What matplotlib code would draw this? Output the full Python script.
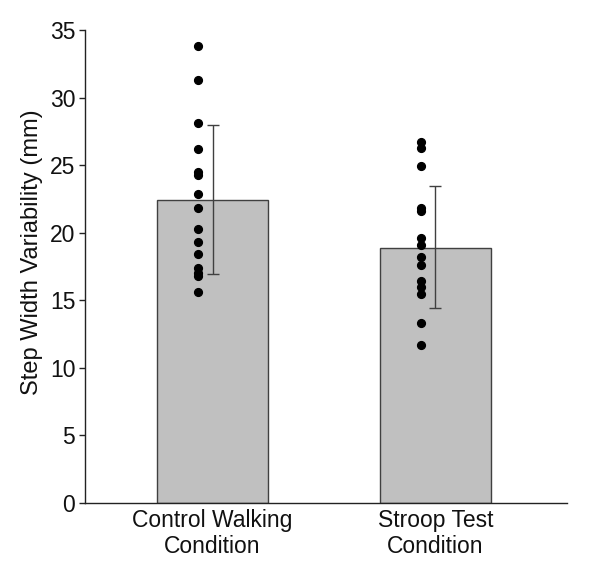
import matplotlib
matplotlib.use("Agg")
import matplotlib.pyplot as plt
import numpy as np

plt.rcParams['font.family'] = ['Liberation Sans', 'DejaVu Sans']

categories = ["Control Walking\nCondition", "Stroop Test\nCondition"]
means = [22.4, 18.9]
err_low = [16.95, 14.45]
err_high = [28.0, 23.45]
control_points = [33.8, 31.3, 28.1, 26.2, 24.5, 24.3, 22.9, 21.8, 20.3, 19.3, 18.4, 17.4, 17.0, 16.8, 15.6]
stroop_points = [26.7, 26.3, 24.9, 21.8, 21.6, 19.6, 19.1, 18.2, 17.6, 16.4, 16.0, 15.5, 13.3, 11.7]
yticks = [0, 5, 10, 15, 20, 25, 30, 35]

fig = plt.figure(figsize=(6.0, 5.68), dpi=100)
ax = fig.add_axes([85/600, 65/568, (567-85)/600, (503-30)/568])

x = np.arange(len(categories))
ax.bar(x, means, width=0.498, color='#c0c0c0', edgecolor='#404040', linewidth=1.0, zorder=1)

yerr = np.array([[m - lo for m, lo in zip(means, err_low)],
                 [hi - m for m, hi in zip(means, err_high)]])
ax.errorbar(x, means, yerr=yerr, fmt='none', ecolor='#404040', elinewidth=1.0,
            capsize=4, capthick=1.0, zorder=2)

for xi, pts in zip(x, [control_points, stroop_points]):
    ax.plot(np.full(len(pts), xi - 0.067), pts, 'o', color='black', markersize=5.6,
            linestyle='none', zorder=3)

ax.set_xlim(-0.572, 1.59)
ax.set_ylim(0, 35)
ax.set_yticks(yticks)
ax.set_xticks(x)
ax.set_xticklabels(categories, fontsize=16.5, linespacing=1.2)
ax.tick_params(axis='y', labelsize=16.5, length=4, width=1, direction='out', pad=3,
               colors='#222222', labelcolor='#111111')
ax.tick_params(axis='x', length=0, pad=4, labelcolor='#111111')
ax.set_ylabel("Step Width Variability (mm)", fontsize=17, color='#111111')
ax.yaxis.set_label_coords(-0.087, 0.53)

for s in ['top', 'right']:
    ax.spines[s].set_visible(False)
for s in ['left', 'bottom']:
    ax.spines[s].set_color('#222222')
    ax.spines[s].set_linewidth(1.0)

fig.savefig("out.png", dpi=100)
